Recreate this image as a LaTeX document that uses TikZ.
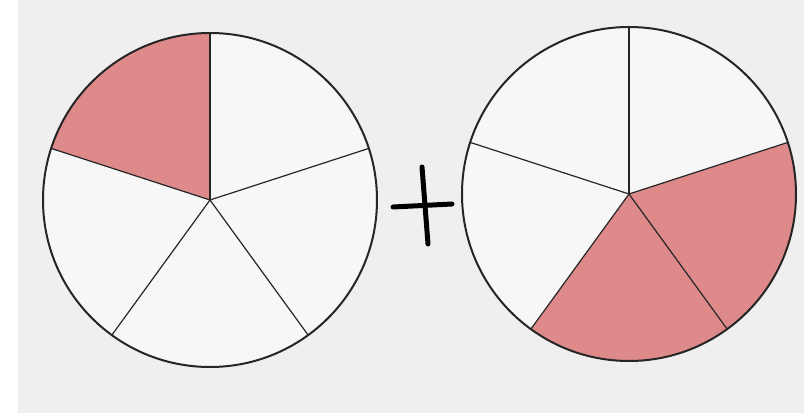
\documentclass[tikz,border=0pt]{standalone}
\usepackage{xcolor}
\usepackage{tikz}
\definecolor{pageGray}{HTML}{EFEFEF}
\definecolor{sliceWhite}{HTML}{F7F7F7}
\definecolor{slicePink}{HTML}{DE8A8A}

\begin{document}
\begin{tikzpicture}[x=1pt, y=1pt]
  % Background
  \fill[white]    (0,0) rectangle (804,413);
  \fill[pageGray] (18,0) rectangle (804,413);
  \useasboundingbox (0,0) rectangle (804,413);

  % Left pie: 1 of 5
  \coordinate (lc) at (210,213);
  \fill[sliceWhite] (lc) circle (167);
  \fill[slicePink] (lc) -- ++(90:167) arc (90:162:167) -- cycle;
  \foreach \a in {90,18,-54,-126,162}
    \draw[line width=1.2pt, black!85] (lc) -- ++(\a:167);
  \draw[line width=2pt, black!85] (lc) circle (167);

  % Plus sign
  \draw[line width=5pt, line cap=round] (422,246) -- (428,169);
  \draw[line width=5pt, line cap=round] (393,206) -- (452,209);

  % Right pie: 2 of 5
  \coordinate (rc) at (629,219);
  \fill[sliceWhite] (rc) circle (167);
  \fill[slicePink] (rc) -- ++(-126:167) arc (-126:18:167) -- cycle;
  \foreach \a in {90,18,-54,-126,162}
    \draw[line width=1.2pt, black!85] (rc) -- ++(\a:167);
  \draw[line width=2pt, black!85] (rc) circle (167);
\end{tikzpicture}
\end{document}
